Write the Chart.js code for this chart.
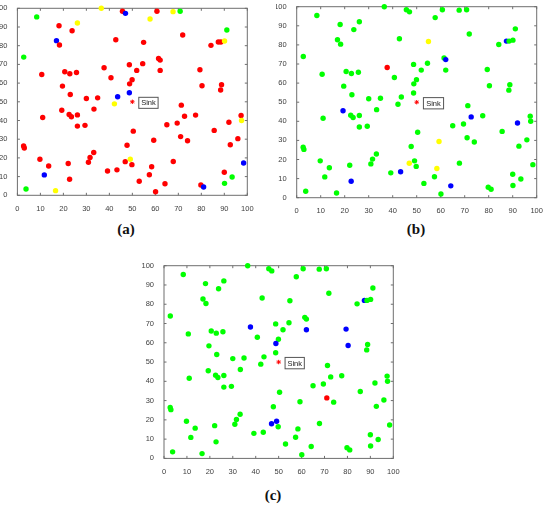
<!DOCTYPE html>
<html>
<head>
<meta charset="utf-8">
<script src="https://cdn.jsdelivr.net/npm/chart.js@4.4.0/dist/chart.umd.min.js"></script>
<style>
  body { margin: 0; background: #fff; width: 550px; height: 507px; position: relative; overflow: hidden; }
  canvas { position: absolute; }
  .cap { position: absolute; font: bold 15px "Liberation Serif", "DejaVu Serif", serif; color: #111; transform: translate(-50%, -50%); }
</style>
</head>
<body>
<canvas id="chartA" width="260" height="215" style="left:0;top:0;width:260px;height:215px"></canvas>
<canvas id="chartB" width="274" height="215" style="left:276px;top:0;width:274px;height:215px"></canvas>
<canvas id="chartC" width="270" height="225" style="left:140px;top:250px;width:270px;height:225px"></canvas>
<div class="cap" style="left:126px;top:229px">(a)</div>
<div class="cap" style="left:416px;top:229px">(b)</div>
<div class="cap" style="left:273px;top:495px">(c)</div>
<script>
// node positions (same field in all three panels), node ids are 1-based
const nodeX = [8.4, 2.75, 36.5, 45.7, 47.0, 26.1, 18.1, 23.8, 17.0, 18.3,
  42.8, 10.6, 20.6, 22.8, 25.7, 37.7, 48.7, 40.7, 19.6, 49.9,
  48.8, 48.7, 23.0, 30.0, 34.9, 43.6, 42.2, 33.3, 19.3, 22.5,
  23.5, 26.1, 11.0, 26.1, 29.4, 2.7, 3.0, 9.8, 13.6, 11.7,
  3.75, 16.6, 22.1, 22.7, 30.9, 31.6, 33.2, 39.2, 43.3, 46.9,
  49.1, 49.8, 47.7, 50.4, 60.7, 67.7, 70.8, 57.7, 71.9, 91.1,
  54.9, 84.2, 87.4, 88.5, 90.1, 54.5, 51.9, 61.4, 62.1, 62.1,
  79.4, 80.3, 88.8, 88.4, 71.3, 72.7, 77.5, 65.0, 69.5, 92.0,
  97.3, 97.5, 85.6, 71.0, 74.0, 59.3, 58.4, 57.4, 53.0, 67.8,
  64.2, 60.1, 79.8, 81.0, 90.0, 90.1, 93.4, 98.4, 92.6, 95.9];
const nodeY = [95.4, 73.9, 100, 98.4, 97.3, 92.1, 90.7, 88.0, 82.7, 80.4,
  83.2, 64.6, 66.1, 65.0, 65.7, 68.2, 69.8, 62.9, 58.4, 61.8,
  59.6, 54.8, 53.9, 51.8, 52.1, 52.7, 48.9, 46.1, 45.5, 43.2,
  42.0, 43.0, 41.6, 37.0, 37.4, 26.4, 25.3, 19.3, 15.7, 10.9,
  3.4, 2.5, 17.0, 8.6, 17.7, 20.2, 22.9, 13.0, 13.6, 18.0,
  19.3, 16.4, 26.8, 34.3, 98.4, 98.2, 98.4, 94.3, 85.7, 88.4,
  81.8, 80.2, 82.0, 82.0, 82.5, 70.4, 66.8, 73.2, 72.3, 66.8,
  67.1, 58.6, 59.1, 56.3, 48.2, 42.3, 42.9, 37.7, 38.6, 39.1,
  42.7, 40.0, 34.7, 31.4, 29.2, 29.4, 15.3, 11.0, 7.5, 18.1,
  6.2, 1.9, 5.5, 4.4, 12.3, 6.4, 9.8, 17.3, 27.0, 30.3];

const sinkX = [50];
const sinkY = [50];

// panel (a): all red except these
const aGreen = [1, 2, 41, 57, 60, 96, 97];
const aYellow = [3, 6, 27, 42, 51, 56, 58, 65, 82];
const aBlue = [5, 9, 22, 26, 40, 94, 98];
// panel (b): all green except these
const bBlue = [29, 44, 49, 63, 69, 76, 80, 91];
const bYellow = [50, 61, 86, 87];
const bRed = [16];
// panel (c): all green except these
const cBlue = [16, 21, 50, 51, 63, 70, 71, 72];
const cRed = [84];

const axisTicks = [0, 10, 20, 30, 40, 50, 60, 70, 80, 90, 100];
const sinkLabelX = [52.8, 61.2];
const sinkLabelY = [46.5, 52.4];

const RED = '#ff0000', GREEN = '#00ff00', BLUE = '#0000ff', YELLOW = '#ffff00';
const axisColor = '#6e6e6e';
const labelColor = '#404040';

function nodeColors(base, groups) {
    return nodeX.map((_, i) => {
        let c = base;
        groups.forEach(([ids, col]) => { if (ids.includes(i + 1)) c = col; });
        return c;
    });
}

const frame = {
    id: 'frame',
    beforeDatasetsDraw(chart) {
        const { ctx, chartArea: a, scales: { x, y } } = chart;
        ctx.save();
        ctx.strokeStyle = axisColor;
        ctx.lineWidth = 1;
        ctx.strokeRect(a.left, a.top, a.right - a.left, a.bottom - a.top);
        ctx.beginPath();
        x.ticks.forEach(t => {
            const px = x.getPixelForValue(t.value);
            ctx.moveTo(px, a.bottom); ctx.lineTo(px, a.bottom - 2.5);
            ctx.moveTo(px, a.top); ctx.lineTo(px, a.top + 2.5);
        });
        y.ticks.forEach(t => {
            const py = y.getPixelForValue(t.value);
            ctx.moveTo(a.left, py); ctx.lineTo(a.left + 2.5, py);
            ctx.moveTo(a.right, py); ctx.lineTo(a.right - 2.5, py);
        });
        ctx.stroke();
        ctx.restore();
    },
    afterDatasetsDraw(chart) {
        const { ctx, scales: { x, y } } = chart;
        const l = x.getPixelForValue(sinkLabelX[0]), r = x.getPixelForValue(sinkLabelX[1]);
        const t = y.getPixelForValue(sinkLabelY[1]), b = y.getPixelForValue(sinkLabelY[0]);
        ctx.save();
        ctx.fillStyle = '#fff';
        ctx.fillRect(l, t, r - l, b - t);
        ctx.strokeStyle = '#555';
        ctx.lineWidth = 1;
        ctx.strokeRect(l, t, r - l, b - t);
        ctx.fillStyle = '#222';
        ctx.font = '7.5px "Liberation Sans", Arial, sans-serif';
        ctx.textAlign = 'center';
        ctx.textBaseline = 'middle';
        ctx.fillText('Sink', (l + r) / 2, (t + b) / 2 + 0.5);
        ctx.restore();
    }
};

function makePanel(canvasId, colors, box) {
    const tickFont = { family: '"Liberation Sans", Arial, sans-serif', size: 7.5 };
    new Chart(document.getElementById(canvasId), {
        type: 'scatter',
        data: {
            datasets: [{
                data: nodeX.map((v, i) => ({ x: v, y: nodeY[i] })),
                backgroundColor: colors,
                borderColor: colors,
                borderWidth: 0,
                pointRadius: 2.7,
                pointHoverRadius: 2.7,
                clip: false
            }, {
                data: sinkX.map((v, i) => ({ x: v, y: sinkY[i] })),
                pointStyle: 'star',
                borderColor: RED,
                backgroundColor: RED,
                borderWidth: 1,
                pointRadius: 2.2,
                clip: false
            }]
        },
        options: {
            responsive: false,
            animation: false,
            events: [],
            layout: { padding: { left: 0, top: box.top, right: box.right, bottom: 0 } },
            plugins: { legend: { display: false }, tooltip: { enabled: false } },
            scales: {
                x: {
                    type: 'linear', min: 0, max: 100,
                    afterBuildTicks: s => { s.ticks = axisTicks.map(v => ({ value: v })); },
                    afterFit: s => { s.height = box.xh; },
                    grid: { display: false },
                    border: { display: false },
                    ticks: { color: labelColor, font: tickFont, padding: 1, maxRotation: 0 }
                },
                y: {
                    type: 'linear', min: 0, max: 100,
                    afterBuildTicks: s => { s.ticks = axisTicks.map(v => ({ value: v })); },
                    afterFit: s => { s.width = box.yw; },
                    grid: { display: false },
                    border: { display: false },
                    ticks: { color: labelColor, font: tickFont, padding: 2 }
                }
            }
        },
        plugins: [frame]
    });
}

makePanel('chartA', nodeColors(RED, [[aGreen, GREEN], [aYellow, YELLOW], [aBlue, BLUE]]),
    { top: 8.3, right: 12.7, yw: 17.4, xh: 19.7 });
makePanel('chartB', nodeColors(GREEN, [[bBlue, BLUE], [bYellow, YELLOW], [bRed, RED]]),
    { top: 6.7, right: 13.3, yw: 20.7, xh: 17.3 });
makePanel('chartC', nodeColors(GREEN, [[cBlue, BLUE], [cRed, RED]]),
    { top: 15.7, right: 16.7, yw: 24, xh: 16.6 });
</script>
</body>
</html>
